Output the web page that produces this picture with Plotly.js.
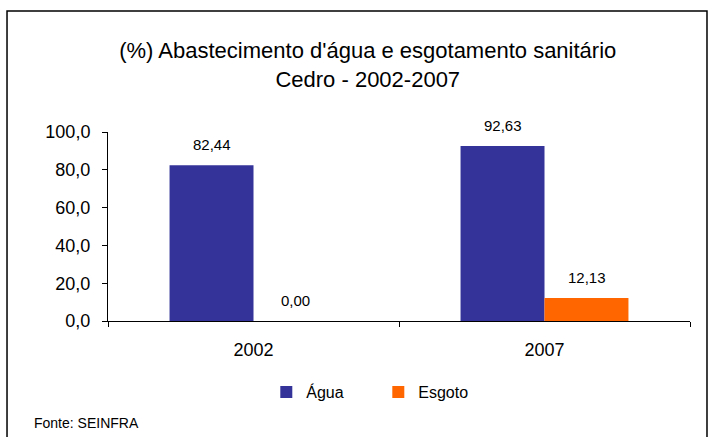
<!DOCTYPE html>
<html>
<head>
<meta charset="utf-8">
<script src="https://cdn.plot.ly/plotly-3.0.1.min.js"></script>
<style>
  html, body { margin: 0; padding: 0; background: #ffffff; }
  #chart { width: 710px; height: 437px; }
</style>
</head>
<body>
<div id="chart"></div>
<script>
const categories = ['2002', '2007'];
const seriesNames = ['Água', 'Esgoto'];
const agua = [82.44, 92.63];
const esgoto = [0.00, 12.13];
const yTickValues = [0, 20, 40, 60, 80, 100];

const colors = ['#333399', '#FF6600'];
const font = 'Liberation Sans, Arial, sans-serif';

const traces = [
  { type: 'bar', name: seriesNames[0], x: categories, y: agua, marker: { color: colors[0] }, hoverinfo: 'none' },
  { type: 'bar', name: seriesNames[1], x: categories, y: esgoto, marker: { color: colors[1] }, hoverinfo: 'none' }
];

function fmt(v) { return v.toFixed(2).replace('.', ','); }

const annotations = [];
[agua, esgoto].forEach((vals, i) => {
  vals.forEach((v, j) => {
    annotations.push({
      x: j, y: v, xref: 'x', yref: 'y',
      text: fmt(v), showarrow: false,
      xshift: i === 0 ? -42 : 42, yshift: 10, yanchor: 'bottom',
      font: { family: font, size: 15, color: '#000000' }
    });
  });
});
annotations.push({
  xref: 'paper', yref: 'paper', x: -0.1306, y: -0.54,
  xanchor: 'left', yanchor: 'middle', showarrow: false,
  text: 'Fonte: SEINFRA', font: { family: font, size: 14, color: '#000000' }
});

const layout = {
  width: 710, height: 437,
  margin: { l: 108, r: 20, t: 132, b: 116 },
  paper_bgcolor: '#ffffff', plot_bgcolor: '#ffffff',
  separators: ',.',
  font: { family: font, color: '#000000' },
  title: {
    text: "(%) Abastecimento d'água e esgotamento sanitário<br>Cedro - 2002-2007",
    font: { family: font, size: 22, color: '#000000' },
    xref: 'container', yref: 'container', x: 0.518, xanchor: 'center',
    y: 0.867, yanchor: 'top'
  },
  barmode: 'group', bargap: 0.423, bargroupgap: 0,
  xaxis: {
    type: 'category', range: [-0.5, 1.5], autorange: false,
    showline: true, linecolor: '#000000', linewidth: 1,
    ticks: 'outside', tickson: 'boundaries', ticklen: 5, tickcolor: '#000000',
    ticklabelstandoff: 12, showgrid: false, zeroline: false,
    tickfont: { family: font, size: 18, color: '#000000' }
  },
  yaxis: {
    range: [0, 100], autorange: false, tickvals: yTickValues, tickformat: '.1f',
    showline: true, linecolor: '#000000', linewidth: 1,
    ticks: 'outside', ticklen: 5, tickcolor: '#000000',
    ticklabelstandoff: 8, showgrid: false, zeroline: false,
    tickfont: { family: font, size: 18, color: '#000000' }
  },
  showlegend: true,
  legend: {
    orientation: 'h', x: 0.272, xanchor: 'left', y: -0.376, yanchor: 'middle',
    entrywidth: 67, entrywidthmode: 'pixels', itemwidth: 30,
    font: { family: font, size: 16, color: '#000000' },
    bgcolor: 'rgba(0,0,0,0)', traceorder: 'normal'
  },
  shapes: [{
    type: 'rect', xref: 'paper', yref: 'paper',
    x0: -0.1735, x1: 1.0292, y0: -0.65, y1: 1.640,
    line: { color: '#000000', width: 1.5 }, fillcolor: 'rgba(0,0,0,0)', layer: 'above'
  }],
  annotations: annotations
};

Plotly.newPlot('chart', traces, layout, { displayModeBar: false, staticPlot: true });
</script>
</body>
</html>
